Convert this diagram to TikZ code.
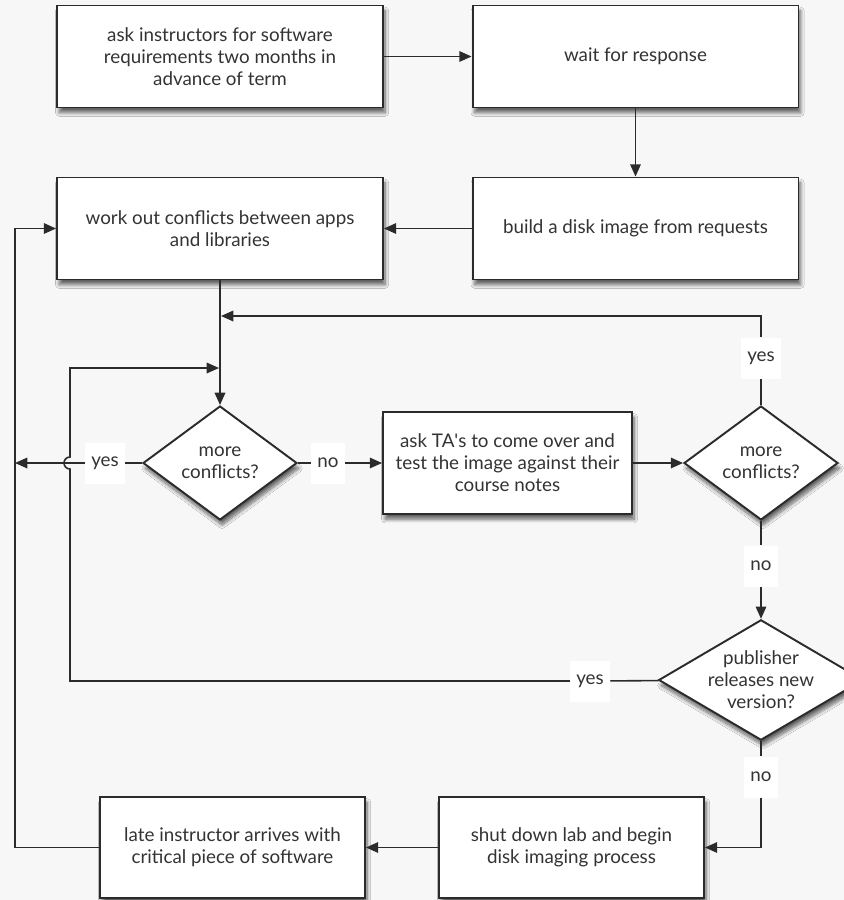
\documentclass[tikz,border=0pt]{standalone}
\usepackage{fontspec}
\setmainfont{Lato}
\usepackage{xcolor}
\usepackage{tikz}
\usetikzlibrary{arrows.meta,positioning,shapes.geometric,shadows.blur,calc}
\definecolor{INK}{HTML}{2B2B2B}
\definecolor{TXT}{HTML}{333333}
\definecolor{BG}{HTML}{F7F7F7}

\begin{document}
\begin{tikzpicture}[
  x=0.02cm, y=-0.02cm,
  font=\fontsize{10.7}{12.5}\selectfont,
  shade/.style={blur shadow={shadow xshift=1.2pt, shadow yshift=-3pt, shadow blur steps=10, shadow opacity=60}},
  box/.style={rectangle, draw=INK, line width=1.1pt, fill=white, text=TXT, align=center, inner sep=2pt, shade},
  wide/.style={box, minimum width=6.52cm, minimum height=2.04cm},
  mid/.style={box, minimum width=5.3cm, minimum height=2.02cm},
  narrow/.style={box, minimum width=4.98cm, minimum height=2.04cm},
  decision/.style={diamond, draw=INK, line width=1.1pt, fill=white, text=TXT, align=center, inner sep=0pt, aspect=1.35, minimum width=3.08cm, minimum height=2.28cm, shade},
  lbl/.style={fill=white, text=TXT, inner xsep=3.5pt, minimum height=0.82cm},
  ln/.style={draw=INK, line width=0.9pt},
  arr/.style={ln, -{Triangle[length=7pt, width=6pt]}},
]
\useasboundingbox (0,0) rectangle (844,900);
\fill[BG] (0,0) rectangle (844,900);

% ===== top rows =====
\node[wide] (reqs) at (220, 56.5) {ask instructors for software\\requirements two months in\\advance of term};
\node[wide] (wait) at (635.5, 56.5) {wait for response};
\node[wide] (build) at (635.5, 228.5) {build a disk image from requests};
\node[wide] (conflicts) at (220, 228.5) {work out conflicts between apps\\and libraries};

% ===== testing row =====
\node[decision] (more1) at (220, 463) {more\\conflicts?};
\node[narrow] (test) at (507.5, 463) {ask TA\textquotesingle s to come over and\\test the image against their\\course notes};
\node[decision] (more2) at (761, 463) {more\\conflicts?};
\node[decision, aspect=1.7, minimum width=3.96cm, minimum height=2.32cm] (publisher) at (761, 680) {publisher\\releases new\\version?};

% ===== bottom row =====
\node[mid] (shutdown) at (571.5, 847.5) {shut down lab and begin\\disk imaging process};
\node[mid] (late) at (232.5, 847.5) {late instructor arrives with\\critical piece of software};

% branch labels
\node[lbl] (yes1) at (105, 463) {yes};
\node[lbl] (no1) at (328, 463) {no};
\node[lbl] (yes2) at (761, 358) {yes};
\node[lbl] (no2) at (761, 566) {no};
\node[lbl] (yes3) at (590, 681) {yes};
\node[lbl] (no3) at (761, 777) {no};

% junctions
\coordinate (topjoin) at (221, 316);
\coordinate (midjoin) at (219, 368);
\coordinate (hop) at (70, 463);
\coordinate (loopL) at (15, 847.5);

% ===== connectors =====
\draw[arr] (reqs) -- (wait);
\draw[arr] (wait) -- (build);
\draw[arr] (build) -- (conflicts);
\draw[arr] (conflicts) -- (more1);

\draw[ln] (more1) -- (no1);
\draw[arr] (no1) -- (test);
\draw[arr] (test) -- (more2);

\draw[ln] (more2) -- (yes2);
\draw[arr] (yes2) |- (topjoin);

\draw[ln] (more2) -- (no2);
\draw[arr] (no2) -- (publisher);

\draw[ln] (more1) -- (yes1);
\draw[arr] (yes1) -- (yes1 -| loopL);

\draw[ln] (publisher) -- (yes3);
\draw[arr] (yes3) -- (yes3 -| hop) -- ($(hop)+(0,6)$)
  arc[start angle=90, end angle=270, radius=6] -- (hop |- midjoin) -- (midjoin);

\draw[ln] (publisher) -- (no3);
\draw[arr] (no3) |- (shutdown);
\draw[arr] (shutdown) -- (late);
\draw[arr] (late) -- (loopL) |- (conflicts);

\end{tikzpicture}
\end{document}
